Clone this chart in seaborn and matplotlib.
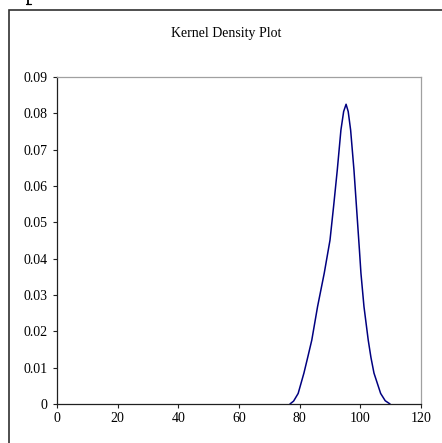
import matplotlib
matplotlib.use("Agg")
import matplotlib.pyplot as plt
import seaborn as sns
import pandas as pd
from matplotlib.patches import Rectangle
from matplotlib.lines import Line2D

# Data
x_values = [76.8, 78.0, 79.5, 81.4, 82.7, 84.0, 85.9, 88.1, 90.0, 91.2, 92.4, 93.6, 94.5,
            95.3, 96.0, 96.8, 97.9, 98.8, 99.7, 100.2, 101.2, 102.6, 103.5, 104.5, 106.7, 108.2, 109.8]
density = [0.0, 0.0008, 0.0029, 0.0085, 0.0130, 0.0176, 0.0268, 0.0360, 0.0451, 0.0545, 0.0644, 0.0754, 0.0805,
           0.0825, 0.0805, 0.0754, 0.0644, 0.0534, 0.0424, 0.0360, 0.0268, 0.0176, 0.0128, 0.0085, 0.0029, 0.0009, 0.0]
x_ticks = [0, 20, 40, 60, 80, 100, 120]
y_ticks = [0, 0.01, 0.02, 0.03, 0.04, 0.05, 0.06, 0.07, 0.08, 0.09]
y_tick_labels = ["0", "0.01", "0.02", "0.03", "0.04", "0.05", "0.06", "0.07", "0.08", "0.09"]
title = "Kernel Density Plot"

df = pd.DataFrame({"x": x_values, "density": density})

sns.set_style("white")
plt.rcParams["font.family"] = ["Liberation Serif", "DejaVu Serif"]

W, H = 442, 443
fig = plt.figure(figsize=(W / 100, H / 100), dpi=100)
fig.patch.set_facecolor("white")

# outer chart border (cut off at right and bottom)
fig.patches.append(Rectangle((9 / W, -0.1), 1.2, 1 - 10 / H + 0.1, transform=fig.transFigure,
                             fill=False, edgecolor="#303030", linewidth=1.2, zorder=0))
# small glyph fragment of page text above the chart
fig.lines.append(Line2D([28 / W, 28 / W], [1 - 0 / H, 1 - 4 / H], transform=fig.transFigure,
                        color="black", linewidth=1.3))
fig.lines.append(Line2D([25.5 / W, 31 / W], [1 - 4 / H, 1 - 4 / H], transform=fig.transFigure,
                        color="black", linewidth=0.9))

ax = fig.add_axes([57 / W, 39 / H, 364 / W, 327 / H])
sns.lineplot(data=df, x="x", y="density", ax=ax, color="#000080", linewidth=1.1, sort=False)

ax.set_xlim(0, 120)
ax.set_ylim(0, 0.09)
ax.set_xticks(x_ticks)
ax.set_xticklabels([str(t) for t in x_ticks])
ax.set_yticks(y_ticks)
ax.set_yticklabels(y_tick_labels)
ax.set_xlabel("")
ax.set_ylabel("")
ax.tick_params(axis="x", bottom=True, direction="out", length=3, width=0.8, color="#202020",
               labelsize=10, labelcolor="black", pad=2.5)
ax.tick_params(axis="y", left=True, direction="out", length=3, width=0.8, color="#202020",
               labelsize=10, labelcolor="black", pad=4)

for side in ["left", "bottom"]:
    ax.spines[side].set_color("#202020")
    ax.spines[side].set_linewidth(0.9)
for side in ["top", "right"]:
    ax.spines[side].set_visible(True)
    ax.spines[side].set_color("#a0a0a0")
    ax.spines[side].set_linewidth(0.9)

fig.text(226 / W, 1 - 33 / H, title, fontsize=10, ha="center", va="center", color="black")

fig.savefig("out.png", dpi=100)
